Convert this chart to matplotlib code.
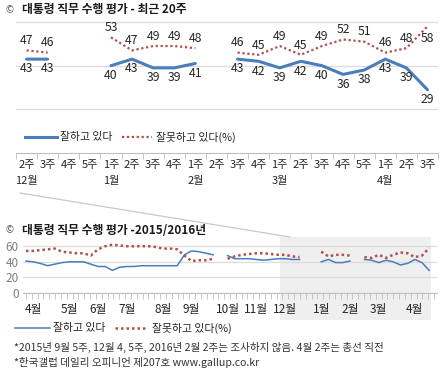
import numpy as np
import matplotlib
matplotlib.use("Agg")
import matplotlib.pyplot as plt
from matplotlib.lines import Line2D
from matplotlib.patches import Rectangle

plt.rcParams['font.family'] = ['Noto Sans CJK KR', 'DejaVu Sans']

nan = np.nan
# ---------------- data: recent 20 weeks ----------------
weeks_top = ['2주', '3주', '4주', '5주', '1주', '2주', '3주', '4주', '1주', '2주',
             '3주', '4주', '1주', '2주', '3주', '4주', '5주', '1주', '2주', '3주']
months_top = {0: '12월', 4: '1월', 8: '2월', 12: '3월', 17: '4월'}
approve_recent = [43, 43, nan, nan, 40, 43, 39, 39, 41, nan,
                  43, 42, 39, 42, 40, 36, 38, 43, 39, 29]
disapprove_recent = [47, 46, nan, nan, 53, 47, 49, 49, 48, nan,
                     46, 45, 49, 45, 49, 52, 51, 46, 48, 58]

# ---------------- data: 2015/2016 weekly (before the recent 20 weeks) ----------------
approve_2015 = [41, 40, 38, 35, 37, 39, 40, 40, 40, 37,
                34, 34, 29, 33, 34, 34, 35, 35, 35, 35,
                35, 35, 49, 54, 53, 51, 49, nan, 48, 44,
                44, 44, 43, 42, 43, 44, 44]
disapprove_2015 = [54, 54, 55, 56, 57, 53, 52, 51, 51, 48,
                   56, 60, 62, 61, 60, 60, 60, 60, 59, 57,
                   57, 56, 48, 41, 42, 42, 44, nan, 44, 47,
                   49, 50, 51, 51, 50, 49, 49]
months_long = ['4월', '5월', '6월', '7월', '8월', '9월', '10월', '11월', '12월',
               '1월', '2월', '3월', '4월']
months_long_week = [1, 6, 10, 14, 19, 23, 28, 32, 36, 41, 45, 49, 54]

legend_pos = '잘하고 있다'
legend_neg = '잘못하고 있다(%)'
title_top = '대통령 직무 수행 평가 - 최근 20주'
title_bottom = '대통령 직무 수행 평가 -2015/2016년'
note1 = '*2015년 9월 5주, 12월 4, 5주, 2016년 2월 2주는 조사하지 않음. 4월 2주는 총선 직전'
note2 = '*한국갤럽 데일리 오피니언 제207호 www.gallup.co.kr'

BLUE = '#4a7ebb'
RED = '#b0504d'
GRID = '#dcdcdc'
TXT = '#262626'
DOT = (0, (1, 1.2))

W, H = 446, 380
fig = plt.figure(figsize=(W / 100, H / 100), dpi=100)
fig.patch.set_facecolor('white')


def rect(x0, y0, x1, y1):
    return [x0 / W, 1 - y1 / H, (x1 - x0) / W, (y1 - y0) / H]


def ftext(x, y, s, **kw):
    return fig.text(x / W, 1 - y / H, s, **kw)


def fline(x0, x1, y, **kw):
    fig.add_artist(Line2D([x0 / W, x1 / W], [1 - y / H, 1 - y / H], transform=fig.transFigure, **kw))


# ---------------- shaded highlight + connector ----------------
fig.add_artist(Rectangle((280 / W, 1 - 320 / H), (431 - 280) / W, (320 - 237) / H,
                         transform=fig.transFigure, facecolor='#efefef', edgecolor='none', zorder=-5))
fig.add_artist(Line2D([20 / W, 290 / W], [1 - 193 / H, 1 - 237 / H], transform=fig.transFigure,
                      color='#c8c8c8', lw=0.9, zorder=-4))

# ---------------- top chart ----------------
ax1 = fig.add_axes(rect(16, 18, 438, 153))
ax1.patch.set_visible(False)
n = len(weeks_top)
xs = np.arange(n) + 0.5
ax1.set_xlim(0, n)
ax1.set_ylim(0, (153 - 18) / 2.183)
ax1.set_yticks([20, 40, 60])
ax1.yaxis.grid(True, color=GRID, lw=0.9)
ax1.set_axisbelow(True)
ax1.tick_params(axis='y', length=0, labelleft=False)
for s in ['top', 'right', 'left']:
    ax1.spines[s].set_visible(False)
ax1.spines['bottom'].set_color('#bfbfbf')
labels = [w + ('\n' + months_top[i] if i in months_top else '') for i, w in enumerate(weeks_top)]
ax1.set_xticks(xs, labels=labels)
ax1.set_xticks(np.arange(n + 1), minor=True)
ax1.tick_params(axis='x', which='major', length=0, pad=5, labelsize=8, labelcolor=TXT)
ax1.tick_params(axis='x', which='minor', length=4, color='#bfbfbf', direction='out')
for t in ax1.get_xticklabels():
    t.set_linespacing(1.75)

ax1.plot(xs, approve_recent, color=BLUE, lw=2.2, solid_capstyle='round')
ax1.plot(xs, disapprove_recent, color=RED, lw=1.6, linestyle=DOT)
for i, (a, d) in enumerate(zip(approve_recent, disapprove_recent)):
    if not np.isnan(a):
        ax1.annotate(f'{a:.0f}', (xs[i], a), xytext=(0, -7), textcoords='offset points',
                     ha='center', va='center', fontsize=8.8, color=TXT)
    if not np.isnan(d):
        off = 7 if i < n - 1 else -9
        ax1.annotate(f'{d:.0f}', (xs[i], d), xytext=(0, off), textcoords='offset points',
                     ha='center', va='center', fontsize=8.8, color=TXT)

# top legend
fline(25, 57, 137, color=BLUE, lw=2.2)
ftext(60, 137, legend_pos, fontsize=7.8, color=TXT, va='center')
fline(122, 152, 137, color=RED, lw=1.6, linestyle=DOT)
ftext(156, 137, legend_neg, fontsize=7.8, color=TXT, va='center')

# titles
ftext(6, 10, '©', fontsize=7, color='#555555', va='center')
ftext(22, 10, title_top, fontsize=8.5, fontweight='bold', color='#1a1a1a', va='center')
ftext(6, 230, '©', fontsize=7, color='#555555', va='center')
ftext(22, 230, title_bottom, fontsize=8.5, fontweight='bold', color='#1a1a1a', va='center')

# ---------------- bottom chart ----------------
approve_all = approve_2015 + approve_recent
disapprove_all = disapprove_2015 + disapprove_recent
wk = np.arange(len(approve_all))
px0, pxw = 26, 7.2
ax2 = fig.add_axes(rect(23, 240, 437, 293))
ax2.patch.set_visible(False)
ax2.set_xlim((23 - px0) / pxw, (437 - px0) / pxw)
ax2.set_ylim(0, 68)
ax2.set_yticks([0, 20, 40, 60])
ax2.yaxis.grid(True, color=GRID, lw=0.9)
ax2.set_axisbelow(True)
ax2.tick_params(axis='y', length=0, pad=3, labelsize=8.5, labelcolor='#7f7f7f')
for s in ['top', 'right', 'left']:
    ax2.spines[s].set_visible(False)
ax2.spines['bottom'].set_color('#bfbfbf')
ax2.set_xticks(months_long_week, labels=months_long)
ax2.set_xticks(np.linspace(0, (434 - px0) / pxw, 71), minor=True)
ax2.tick_params(axis='x', which='major', length=0, pad=7, labelsize=8.5, labelcolor=TXT)
ax2.tick_params(axis='x', which='minor', length=4, color='#bfbfbf', direction='out')
ax2.plot(wk, approve_all, color=BLUE, lw=1.1)
ax2.plot(wk, disapprove_all, color=RED, lw=1.8, linestyle=DOT)

# bottom legend
fline(15, 50, 328, color=BLUE, lw=1.1)
ftext(53, 328, legend_pos, fontsize=7.8, color=TXT, va='center')
fline(115, 148, 328, color=RED, lw=1.8, linestyle=DOT)
ftext(152, 328, legend_neg, fontsize=7.8, color=TXT, va='center')

# footnotes
ftext(14, 347, note1, fontsize=7.6, color='#333333', va='center')
ftext(14, 363, note2, fontsize=7.6, color='#333333', va='center')

fig.savefig('out.png', dpi=100, facecolor='white')
